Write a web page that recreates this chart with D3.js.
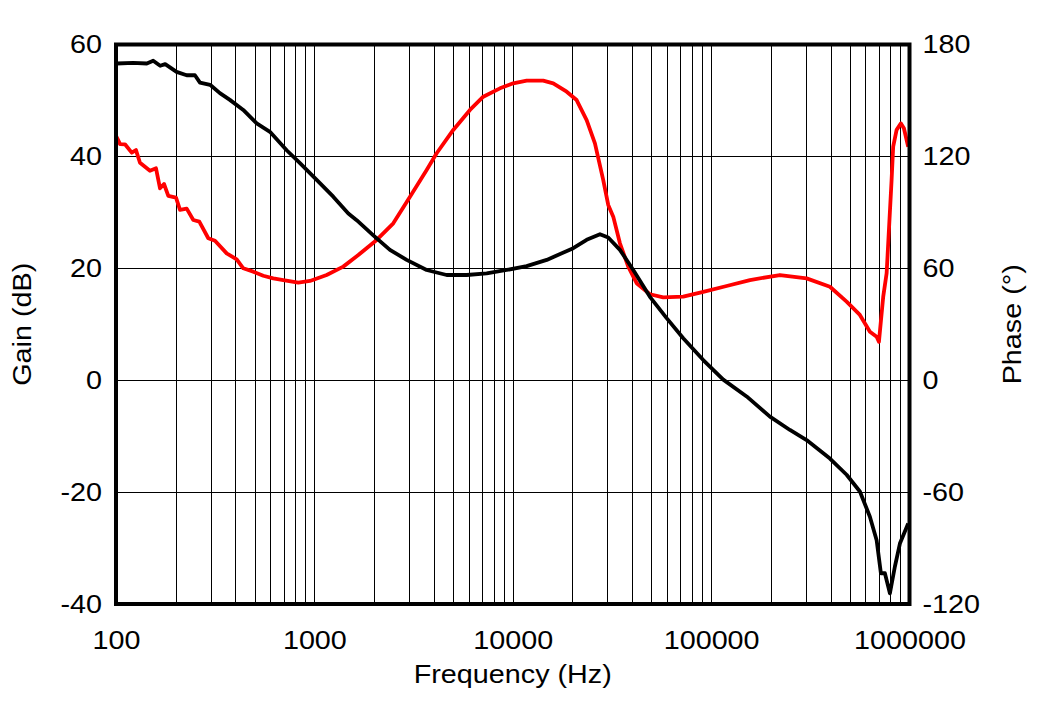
<!DOCTYPE html>
<html>
<head>
<meta charset="utf-8">
<script src="https://cdn.jsdelivr.net/npm/d3@7"></script>
<style>
  html, body { margin: 0; padding: 0; background: #fff; }
  svg { display: block; }
  text { font-family: "Liberation Sans", Arial, sans-serif; fill: #000; }
</style>
</head>
<body>
<svg id="chart" width="1040" height="701"></svg>
<script>
// ---- Data ----
const gainFreq = [101, 122, 143, 154, 167, 177, 202, 227, 250, 265, 298, 334, 375, 438, 512, 597, 725, 846,
  1027, 1245, 1483, 1634, 1982, 2404, 2919, 3681, 4643, 5857, 7386, 9318, 11750, 14830, 20180, 23580, 27520,
  30290, 34700, 40500, 49150, 59670, 72350, 91270, 115100, 151000, 197900, 249600, 302900, 397100, 481900,
  562300, 631500, 682900, 717500, 751600, 796400, 844200, 894600, 984900];
const gainDb = [56.6, 56.7, 56.6, 57.1, 56.2, 56.5, 55.1, 54.5, 54.5, 53.2, 52.8, 51.3, 50.1, 48.3, 45.9, 44.4, 41.1, 38.8,
  35.8, 32.8, 29.8, 28.6, 25.9, 23.3, 21.5, 19.7, 18.8, 18.8, 19.1, 19.7, 20.4, 21.5, 23.6, 25.1, 26.1,
  25.5, 23.3, 19.7, 14.9, 11.1, 7.5, 3.6, 0.1, -2.9, -6.5, -8.9, -10.7, -14.0, -16.9,
  -19.9, -24.4, -28.6, -34.5, -34.5, -38.1, -33.3, -29.2, -25.6];

const phaseFreq = [100, 101.5, 104.8, 111, 120, 126.1, 132.1, 148.3, 159.1, 166.7, 174.6, 183.5, 200.7, 210.2, 227.2,
  245.3, 263, 291.9, 315.5, 361.4, 405.9, 438.1, 492, 552.6, 620.8, 697.1, 829.4, 950.1, 1153, 1398, 1665,
  2061, 2499, 3034, 3681, 4134, 5013, 6085, 7102, 8619, 10060, 11750, 14240, 16000, 18700, 20990, 23580,
  25960, 28590, 30290, 32110, 34700, 38210, 42120, 49150, 57360, 72350, 91270, 119700, 156900, 222300,
  302900, 397100, 481900, 562300, 631500, 682900, 701200, 737200, 766800, 812300, 827500, 861000, 905200,
  937100, 984900];
const phaseDeg = [131, 129.7, 126.6, 126.5, 122, 123.4, 116.6, 112.3, 113.6, 102.9, 105.2, 98.8, 97.9, 91.3, 92,
  85.9, 85, 76.1, 74.8, 68, 64.8, 60, 58.2, 56, 54.6, 53.7, 52.3, 53.2, 56.4, 60.9, 67.1,
  75.2, 84.1, 98.4, 112.7, 121.7, 134.2, 144.9, 152, 156.5, 159.2, 160.6, 160.6, 159.2, 154.7, 150.2, 139.5,
  127, 107.3, 94, 87.7, 73.4, 60.9, 52, 46.1, 44.4, 44.8, 47.4, 50.5, 53.7, 56.4,
  54.6, 50.1, 42.1, 35, 26, 23.3, 20.6, 44.8, 57.3, 107.3, 125.2, 134.2, 137.7,
  135.1, 125.2];

const gainTicks = [-40, -20, 0, 20, 40, 60];
const phaseTicks = [-120, -60, 0, 60, 120, 180];
const freqTicks = [100, 1000, 10000, 100000, 1000000];

// ---- Layout ----
const L = 116, R = 909.5, T = 44.5, B = 604;
const FS = 25, SX = 1.15;

const svg = d3.select("#chart");
const x = d3.scaleLog().domain([100, 1e6]).range([L, R]);
const yG = d3.scaleLinear().domain([-40, 60]).range([B, T]);
const yP = d3.scaleLinear().domain([-120, 180]).range([B, T]);

// Grid (1px lines snapped to pixel centres)
const snap = v => Math.round(v) + 0.5;
const grid = svg.append("g").attr("stroke", "#000").attr("stroke-width", 1);
const minor = [];
for (let dec = 100; dec < 1e6; dec *= 10) for (let k = 1; k < 10; k++) minor.push(dec * k);
grid.selectAll("line.v").data(minor.filter(d => d > 100)).enter().append("line")
  .attr("x1", d => snap(x(d))).attr("x2", d => snap(x(d))).attr("y1", T).attr("y2", B);
grid.selectAll("line.h").data(gainTicks.filter(d => d > -40 && d < 60)).enter().append("line")
  .attr("x1", L).attr("x2", R).attr("y1", d => snap(yG(d))).attr("y2", d => snap(yG(d)));

// Clip
svg.append("clipPath").attr("id", "clip").append("rect")
  .attr("x", L).attr("y", T).attr("width", R - L).attr("height", B - T);

const gainLine = d3.line().x((d, i) => x(gainFreq[i])).y(d => yG(d));
const phaseLine = d3.line().x((d, i) => x(phaseFreq[i])).y(d => yP(d));

const plot = svg.append("g").attr("clip-path", "url(#clip)");
plot.append("path").datum(phaseDeg).attr("d", phaseLine)
  .attr("fill", "none").attr("stroke", "#ff0000").attr("stroke-width", 3.8).attr("stroke-linejoin", "round");
plot.append("path").datum(gainDb).attr("d", gainLine)
  .attr("fill", "none").attr("stroke", "#000").attr("stroke-width", 3.8).attr("stroke-linejoin", "round");

// Border
svg.append("rect").attr("x", L).attr("y", T).attr("width", R - L).attr("height", B - T)
  .attr("fill", "none").attr("stroke", "#000").attr("stroke-width", 4);

function styleAxis(g) {
  g.select(".domain").remove();
  g.selectAll("text").attr("font-size", FS).attr("font-family", '"Liberation Sans", Arial, sans-serif').attr("fill", "#000");
}
const plain = d => String(d);

// Left axis
const axL = svg.append("g").attr("transform", `translate(${L},0)`)
  .call(d3.axisLeft(yG).tickValues(gainTicks).tickFormat(plain).tickSize(0).tickPadding(0));
styleAxis(axL);
axL.selectAll("text").attr("x", 0).attr("transform", `translate(-14,0) scale(${SX},1)`);

// Right axis
const axR = svg.append("g").attr("transform", `translate(${R},0)`)
  .call(d3.axisRight(yP).tickValues(phaseTicks).tickFormat(plain).tickSize(0).tickPadding(0));
styleAxis(axR);
axR.selectAll("text").attr("x", 0).attr("transform", `translate(13,0) scale(${SX},1)`);

// Bottom axis
const axB = svg.append("g").attr("transform", `translate(0,${B})`)
  .call(d3.axisBottom(x).tickValues(freqTicks).tickFormat(plain).tickSize(0).tickPadding(0));
styleAxis(axB);
axB.selectAll("text").attr("y", 0).attr("dy", null).attr("transform", `translate(0,45) scale(${SX},1)`);

// Titles
svg.append("text").attr("font-size", FS).attr("text-anchor", "middle")
  .attr("transform", `translate(${(L + R) / 2},683) scale(${SX},1)`).text("Frequency (Hz)");
svg.append("text").attr("font-size", FS).attr("text-anchor", "middle")
  .attr("transform", `translate(31,${(T + B) / 2}) rotate(-90) scale(${SX},1)`).text("Gain (dB)");
svg.append("text").attr("font-size", FS).attr("text-anchor", "middle")
  .attr("transform", `translate(1021,${(T + B) / 2}) rotate(-90) scale(${SX},1)`).text("Phase (°)");
</script>
</body>
</html>
